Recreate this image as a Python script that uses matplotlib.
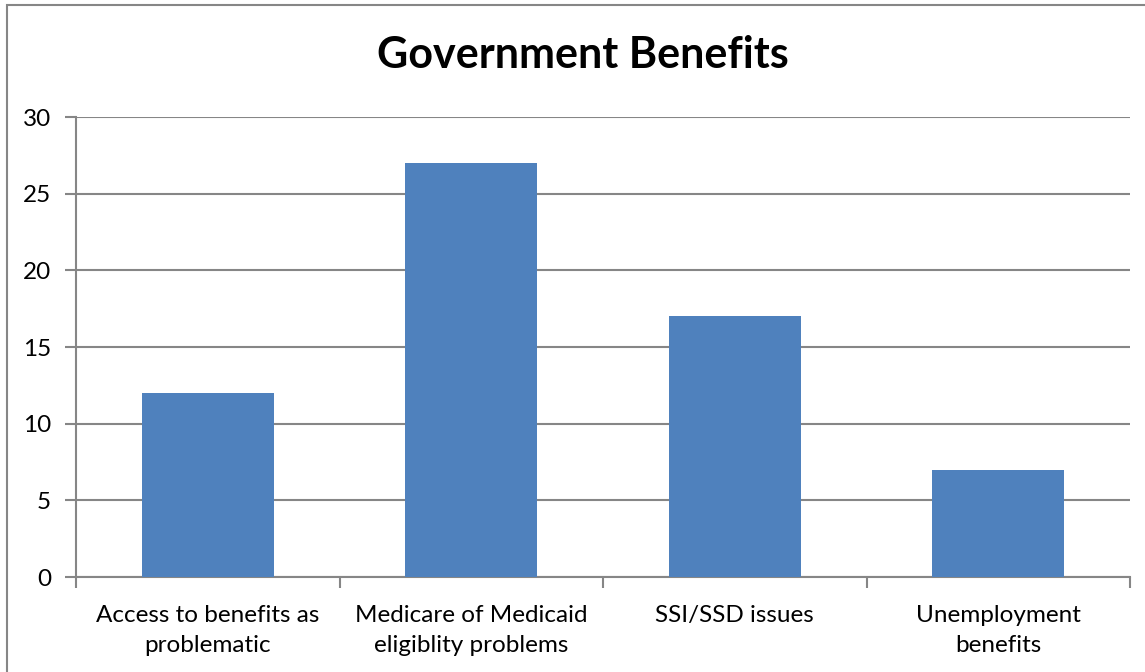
import matplotlib.pyplot as plt
from matplotlib.patches import Rectangle
import numpy as np

categories = ["Access to benefits as\nproblematic",
              "Medicare of Medicaid\neligiblity problems",
              "SSI/SSD issues",
              "Unemployment\nbenefits"]
values = [12, 27, 17, 7]
yticks = [0, 5, 10, 15, 20, 25, 30]

plt.rcParams["font.family"] = ["Lato", "DejaVu Sans"]
grey = "#868686"

W, H = 1145, 672
fig = plt.figure(figsize=(W / 100, H / 100), dpi=100)
ax = fig.add_axes([76 / W, 1 - 577 / H, (1130 - 76) / W, (577 - 117) / H])

x = np.arange(len(categories))
ax.bar(x, values, width=0.5, color="#4F81BD", zorder=3)

ax.set_xlim(-0.5, len(categories) - 0.5)
ax.set_ylim(0, 30)
ax.set_yticks(yticks)
ax.yaxis.grid(True, color=grey, lw=1.5, zorder=0)
ax.tick_params(axis="y", length=8, width=1.5, color=grey, labelsize=17.5, pad=10)

# category labels between boundary ticks
ax.set_xticks(np.arange(-0.5, len(categories)), minor=False)
ax.set_xticklabels([])
ax.set_xticks(x, minor=True)
ax.set_xticklabels(categories, minor=True, fontsize=17.5, linespacing=1.55)
ax.tick_params(axis="x", which="major", length=8, width=1.5, color=grey)
ax.tick_params(axis="x", which="minor", length=0, pad=20)

for side in ["top", "right"]:
    ax.spines[side].set_visible(False)
for side in ["left", "bottom"]:
    ax.spines[side].set_color(grey)
    ax.spines[side].set_linewidth(1.5)

fig.text(583 / W, 1 - 55 / H, "Government Benefits", ha="center", va="center",
         fontsize=31, fontweight="bold")

fig.patches.append(Rectangle((7 / W, -0.1), 1.2, 1 - 5 / H + 0.1,
                             transform=fig.transFigure, fill=False,
                             edgecolor=grey, lw=1.5))

fig.savefig("out.png", dpi=100)
